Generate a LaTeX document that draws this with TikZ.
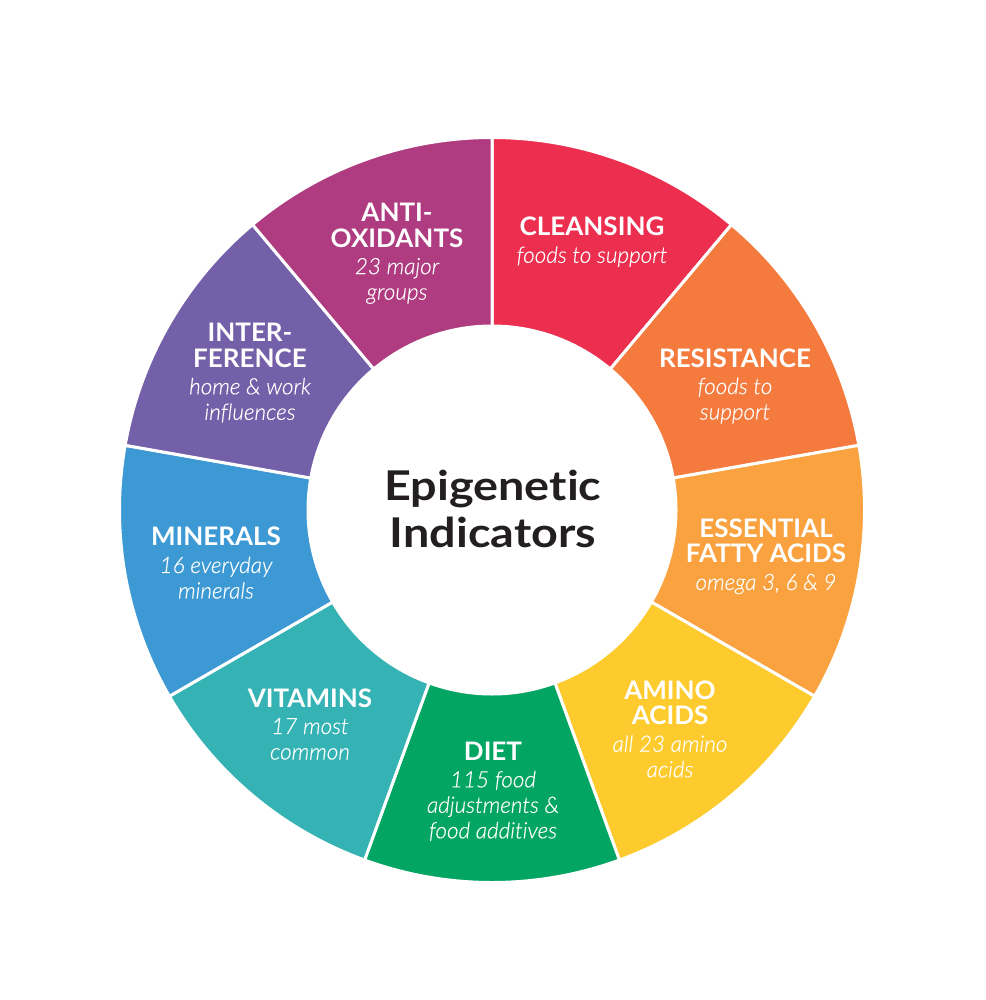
\documentclass[tikz,border=0pt]{standalone}
\usepackage{fontspec}
\setmainfont{Lato}[Ligatures=NoCommon]
\newfontfamily\subfam{Lato Light Italic}[Ligatures=NoCommon,FakeBold=0.25]
\newfontfamily\titlefam{Lato Bold}[Ligatures=NoCommon,FakeStretch=1.02]
\newfontfamily\hubfam{Lato Bold}[Ligatures=NoCommon,FakeStretch=1.14]
\newcommand{\subf}{\subfam\fontsize{22.5}{25.5}\selectfont}
\definecolor{cClean}{HTML}{EC2E4F}
\definecolor{cResist}{HTML}{F47A3D}
\definecolor{cFatty}{HTML}{F9A23F}
\definecolor{cAmino}{HTML}{FECB2F}
\definecolor{cDiet}{HTML}{03A562}
\definecolor{cVit}{HTML}{35B3B4}
\definecolor{cMin}{HTML}{3D99D4}
\definecolor{cInter}{HTML}{7460A8}
\definecolor{cAnti}{HTML}{AF3C80}
\definecolor{cInk}{HTML}{231F20}
\tikzset{
  x=1pt,y=1pt,
  sector/.style={draw=white,line width=3pt,line join=miter},
  seglabel/.style={text=white,align=center,inner sep=0pt,font=\titlefam\fontsize{25.5}{25.5}\selectfont},
  hub/.style={text=cInk,align=center,inner sep=0pt,font=\hubfam\fontsize{41}{47}\selectfont},
}
\begin{document}
\begin{tikzpicture}
\useasboundingbox (0,0) rectangle (985,-1000);
\fill[white] (0,0) rectangle (985,-1000);
\begin{scope}[shift={(492,-510)}]
\foreach \a/\c in {90/cClean,50/cResist,10/cFatty,-30/cAmino,-70/cDiet,-110/cVit,-150/cMin,-190/cInter,-230/cAnti}{
  \pgfmathsetmacro{\b}{\a-40}
  \draw[sector,fill=\c] (\a:184) -- (\a:372.5) arc[start angle=\a,end angle=\b,radius=372.5] -- (\b:184) arc[start angle=\b,end angle=\a,radius=184] -- cycle;
}
\end{scope}
\node[seglabel] (cleansing) at (592,-242) {CLEANSING\\[1.5pt]{\subf foods to support}};
\node[seglabel] (resistance) at (735,-386) {RESISTANCE\\[1.5pt]{\subf foods to}\\{\subf support}};
\node[seglabel] (fatty) at (766,-556.5) {ESSENTIAL\\FATTY ACIDS\\[1.5pt]{\subf omega 3, 6 \& 9}};
\node[seglabel] (amino) at (670,-729) {AMINO\\ACIDS\\[1.5pt]{\subf all 23 amino}\\{\subf acids}};
\node[seglabel] (diet) at (493,-791.5) {DIET\\[1.5pt]{\subf 115 food}\\{\subf adjustments \&}\\{\subf food additives}};
\node[seglabel] (vitamins) at (310,-724) {VITAMINS\\[1.5pt]{\subf 17 most}\\{\subf common}};
\node[seglabel] (minerals) at (216,-563) {MINERALS\\[1.5pt]{\subf 16 everyday}\\{\subf minerals}};
\node[seglabel] (interference) at (250,-373) {INTER-\\FERENCE\\[1.5pt]{\subf home \& work}\\{\subf influences}};
\node[seglabel] (antioxidants) at (397,-253.5) {ANTI-\\OXIDANTS\\[1.5pt]{\subf 23 major}\\{\subf groups}};
\node[hub] (hub) at (493,-509) {Epigenetic\\Indicators};
\end{tikzpicture}
\end{document}
